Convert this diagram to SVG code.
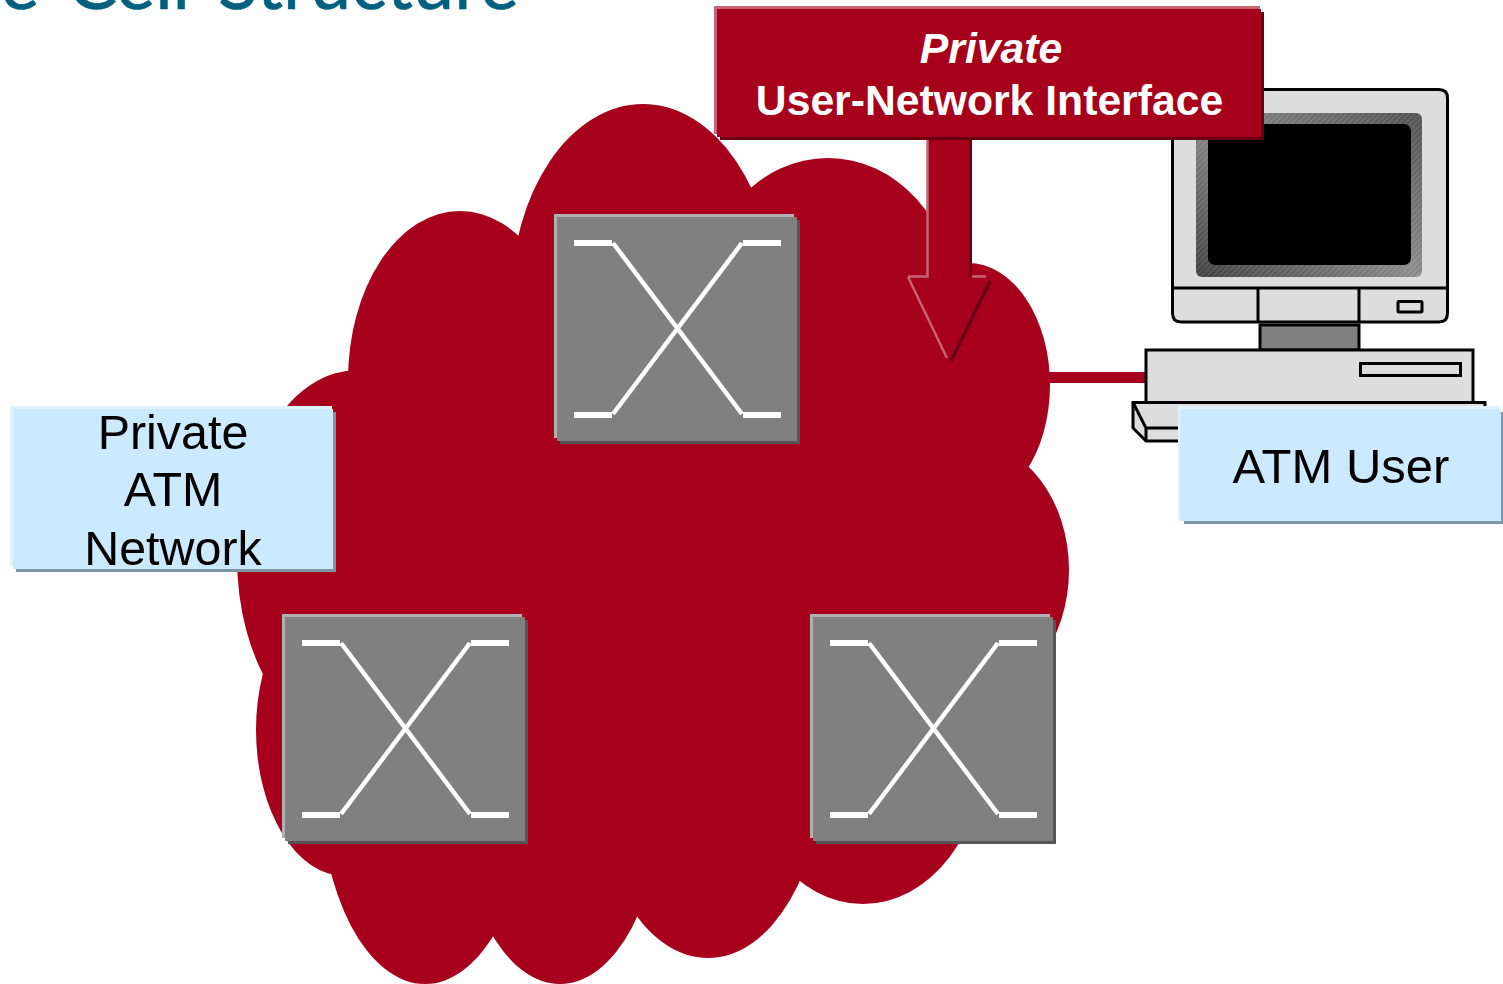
<svg xmlns="http://www.w3.org/2000/svg" width="1503" height="984" viewBox="0 0 1503 984">
<defs>
<style>
.ar{font-family:"Liberation Sans",Arial,sans-serif}
.lab{font-size:48.400px;fill:#000;text-anchor:middle}
.w{fill:#fff;font-size:42.700px;font-weight:bold;text-anchor:middle}
.mono{stroke:#000;stroke-width:3;fill:#ddd}
</style>
<linearGradient id="bez" x1="0" y1="1" x2="1" y2="0"><stop offset="0" stop-color="#3f3f3f"/><stop offset=".5" stop-color="#8a8a8a"/><stop offset="1" stop-color="#4f4f4f"/></linearGradient>
<pattern id="hatch" width="4" height="4" patternUnits="userSpaceOnUse" patternTransform="rotate(45)"><rect width="1.500" height="4" fill="#fff" opacity=".12"/></pattern>
<g id="sw">
<rect x="6" y="6" width="240" height="224" fill="#555"/>
<rect x="0" y="0" width="240" height="224" fill="#b0b0b0"/>
<rect x="3" y="3" width="240" height="224" fill="#808080"/>
<g fill="none" stroke="#fff">
<path d="M20 29H58M20 201H58M189 29H227M189 201H227" stroke-width="6"/>
<path d="M59 29L188 200M188 29L59 200" stroke-width="4.500"/>
</g>
</g>
</defs>
<rect width="1503" height="984" fill="#fefefe"/>
<text id="title" x="-84" y="9" font-family="Lato,sans-serif" font-size="74" word-spacing="9" fill="#006080" stroke="#006080" stroke-width=".6">The Cell Structure</text>
<g id="cloud" fill="#a6001c">
<ellipse cx="643" cy="300" rx="132" ry="196"/>
<ellipse cx="828" cy="300" rx="126" ry="142"/>
<ellipse cx="460" cy="380" rx="112" ry="169"/>
<ellipse cx="358" cy="558" rx="121" ry="188"/>
<ellipse cx="968" cy="385" rx="82" ry="122"/>
<ellipse cx="970" cy="570" rx="99" ry="128"/>
<ellipse cx="863" cy="745" rx="122" ry="159"/>
<ellipse cx="708" cy="760" rx="116" ry="198"/>
<ellipse cx="560" cy="790" rx="102" ry="194"/>
<ellipse cx="425" cy="784" rx="105" ry="200"/>
<ellipse cx="345" cy="730" rx="89" ry="146"/>
<rect x="400" y="300" width="600" height="500"/>
</g>
<g id="connectors">
<rect x="1049" y="372" width="100" height="11" fill="#a6001c"/>
</g>
<g id="computer">
<path class="mono" d="M1172.500 98Q1172.500 89.500 1181 89.500H1439Q1447.500 89.500 1447.500 98V313Q1447.500 322 1439 322H1181Q1172.500 322 1172.500 313Z"/>
<path d="M1172 288H1447M1258 288V322M1359 288V322" fill="none" stroke="#000" stroke-width="3"/>
<rect x="1196" y="113" width="226" height="164" rx="6" fill="url(#bez)"/>
<rect x="1196" y="113" width="226" height="164" rx="6" fill="url(#hatch)"/>
<rect x="1208" y="124" width="203" height="141" rx="7" fill="#000"/>
<rect class="mono" x="1398" y="301.500" width="24" height="10.500" rx="1"/>
<rect x="1260" y="325" width="99" height="25" fill="#808080" stroke="#000" stroke-width="3"/>
<rect class="mono" x="1146" y="350" width="327" height="53"/>
<rect class="mono" x="1360.500" y="363.500" width="100" height="12"/>
<path class="mono" d="M1133 402.500H1485V441H1146L1133 428Z"/>
<path d="M1133 402.500L1146 428V441M1146 428H1485" fill="none" stroke="#000" stroke-width="3"/>
</g>
<use id="switch-top" href="#sw" x="554" y="214"/>
<use id="switch-left" href="#sw" x="282" y="614"/>
<use id="switch-right" href="#sw" x="810" y="614"/>
<g id="uni-arrow">
<path d="M927 139H972V277H989L951 361L908 277H927Z" fill="#a6001c"/>
<path d="M927.500 139V276.500H908M908 277L947 358" fill="none" stroke="#c76373" stroke-width="2.500"/>
<path d="M972 276.500H986" fill="none" stroke="#c76373" stroke-width="2.500"/>
<path d="M970.500 139V277" fill="none" stroke="#660011" stroke-width="3"/>
<path d="M990 281L951 361" fill="none" stroke="#660011" stroke-width="3.500"/>
</g>
<g id="uni-label">
<rect x="720" y="12" width="544" height="128" fill="#660011"/>
<rect x="714" y="6" width="546" height="128" fill="#c76373"/>
<rect x="717" y="9" width="544" height="128" fill="#a6001c"/>
<text class="ar w" x="991" y="63" font-style="italic">Private</text>
<text class="ar w" x="989.500" y="115">User-Network Interface</text>
</g>
<g id="private-atm-label">
<rect x="16" y="412" width="320" height="160" fill="#7c96a6"/>
<rect x="10" y="406" width="322" height="160" fill="#dff2ff"/>
<rect x="13" y="409" width="320" height="160" fill="#cbeaff"/>
<text class="ar lab" x="173" y="449">Private</text>
<text class="ar lab" x="173" y="506">ATM</text>
<text class="ar lab" x="173" y="565">Network</text>
</g>
<g id="atm-user-label">
<rect x="1184" y="412" width="319" height="112" fill="#7c96a6"/>
<rect x="1178" y="406" width="321" height="113" fill="#dff2ff"/>
<rect x="1180" y="409" width="321" height="112" fill="#cbeaff"/>
<text class="ar lab" x="1341" y="483" style="font-size:49px">ATM User</text>
</g>
</svg>
